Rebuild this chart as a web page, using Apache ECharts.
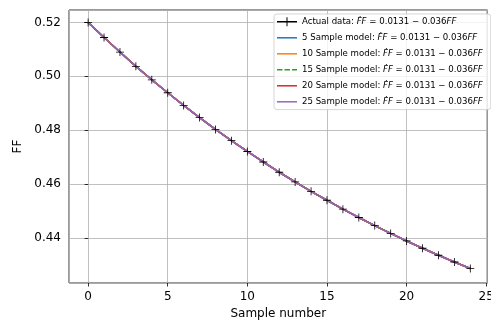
<!DOCTYPE html>
<html>
<head>
<meta charset="utf-8">
<script src="https://cdn.jsdelivr.net/npm/echarts@6/dist/echarts.min.js"></script>
<style>html,body{margin:0;padding:0;background:#fff;}#c{width:491px;height:322px;}</style>
</head>
<body>
<div id="c"></div>
<script>
const sampleNumbers = [0,1,2,3,4,5,6,7,8,9,10,11,12,13,14,15,16,17,18,19,20,21,22,23,24];
const actualFF = [0.5200,0.5144,0.5090,0.5037,0.4987,0.4939,0.4892,0.4847,0.4803,0.4761,0.4721,0.4682,0.4644,0.4608,0.4573,0.4540,0.4507,0.4476,0.4446,0.4417,0.4389,0.4362,0.4336,0.4311,0.4287];
const model5FF = [0.5200,0.5144,0.5090,0.5037,0.4987,0.4939,0.4892,0.4847,0.4803,0.4761,0.4721,0.4682,0.4644,0.4608,0.4573,0.4540,0.4507,0.4476,0.4446,0.4417,0.4389,0.4362,0.4336,0.4311,0.4287];
const model10FF = model5FF.slice();
const model15FF = model5FF.slice();
const model20FF = model5FF.slice();
const model25FF = model5FF.slice();
const seriesNames = ['Actual data', '5 Sample model', '10 Sample model', '15 Sample model', '20 Sample model', '25 Sample model'];
const xTicks = [0, 5, 10, 15, 20, 25];
const yTicks = [0.44, 0.46, 0.48, 0.50, 0.52];

const colors = ['#000000', '#1f77b4', '#ff7f0e', '#2ca02c', '#d62728', '#9467bd'];
const allData = [actualFF, model5FF, model10FF, model15FF, model20FF, model25FF];
const plusPath = 'path://M-0.1,-1H0.1V-0.1H1V0.1H0.1V1H-0.1V0.1H-1V-0.1H-0.1Z';
const iconLine = 'path://M0,4.25H20V5.75H0Z';
const iconDash = 'path://M0,4.25H5.5V5.75H0ZM7.5,4.25H13V5.75H7.5ZM15,4.25H20V5.75H15Z';
const iconPlus = 'path://M0,4.25H9.5V0.5H10.5V4.25H20V5.75H10.5V9.5H9.5V5.75H0Z';

const series = allData.map((vals, i) => ({
  name: seriesNames[i],
  type: 'line',
  data: vals.map((v, k) => [sampleNumbers[k], v]),
  showSymbol: i === 0,
  symbol: i === 0 ? plusPath : 'none',
  symbolSize: 8,
  itemStyle: { color: colors[i] },
  lineStyle: { color: colors[i], width: 1.5, type: i === 3 ? [5.5, 2.4] : 'solid' },
  animation: false,
  silent: true
}));

const chart = echarts.init(document.getElementById('c'), null, { renderer: 'canvas' });
chart.setOption({
  backgroundColor: '#ffffff',
  animation: false,
  textStyle: { fontFamily: 'DejaVu Sans' },
  grid: { left: 69, right: 3.5, top: 10, bottom: 39, show: true, borderColor: '#000', borderWidth: 0.8, backgroundColor: 'transparent', outerBoundsMode: 'none', containLabel: false },
  xAxis: {
    type: 'value', min: -1.2, max: 25.08, splitNumber: 5,
    name: 'Sample number', nameLocation: 'middle', nameGap: 24,
    nameTextStyle: { fontSize: 12, color: '#000', fontFamily: 'DejaVu Sans' },
    axisLine: { show: false },
    axisTick: { show: true, inside: false, length: 3.5, lineStyle: { color: '#000', width: 0.8 } },
    axisLabel: { showMinLabel: false, showMaxLabel: false, margin: 8, fontSize: 12, color: '#000', fontFamily: 'DejaVu Sans',
      formatter: v => (xTicks.indexOf(Math.round(v)) >= 0 && Math.abs(v - Math.round(v)) < 1e-6) ? String(Math.round(v)) : '' },
    splitLine: { show: true, lineStyle: { color: '#b0b0b0', width: 0.8 } }
  },
  yAxis: {
    type: 'value', min: 0.4233, max: 0.5246, splitNumber: 5,
    name: 'FF', nameLocation: 'middle', nameGap: 36,
    nameTextStyle: { fontSize: 12, color: '#000', fontFamily: 'DejaVu Sans' },
    axisLine: { show: false },
    axisTick: { show: true, inside: false, length: 3.5, lineStyle: { color: '#000', width: 0.8 } },
    axisLabel: { showMinLabel: false, showMaxLabel: false, margin: 8, fontSize: 12, color: '#000', fontFamily: 'DejaVu Sans',
      formatter: v => (yTicks.some(t => Math.abs(t - v) < 1e-6)) ? v.toFixed(2) : '' },
    splitLine: { show: true, lineStyle: { color: '#b0b0b0', width: 0.8 } }
  },
  legend: {
    orient: 'vertical', left: 274, top: 14,
    padding: [3.3, 8, 3.3, 3],
    itemWidth: 20, itemHeight: 10, itemGap: 7,
    backgroundColor: 'rgba(255,255,255,0.8)',
    borderColor: '#cccccc', borderWidth: 0.8, borderRadius: 3,
    data: seriesNames.map((n, i) => ({ name: n, icon: i === 0 ? iconPlus : (i === 3 ? iconDash : iconLine), itemStyle: { color: colors[i] } })),
    formatter: name => '{n|' + name + ': }{i|ḞF}{n| = 0.0131 − 0.036}{i|FF}',
    textStyle: {
      color: '#000', fontSize: 8.6, fontFamily: 'DejaVu Sans',
      rich: {
        n: { fontSize: 8.6, fontFamily: 'DejaVu Sans', color: '#000' },
        i: { fontSize: 8.6, fontFamily: 'DejaVu Sans', fontStyle: 'italic', color: '#000' }
      }
    }
  },
  series: series
});
</script>
</body>
</html>
